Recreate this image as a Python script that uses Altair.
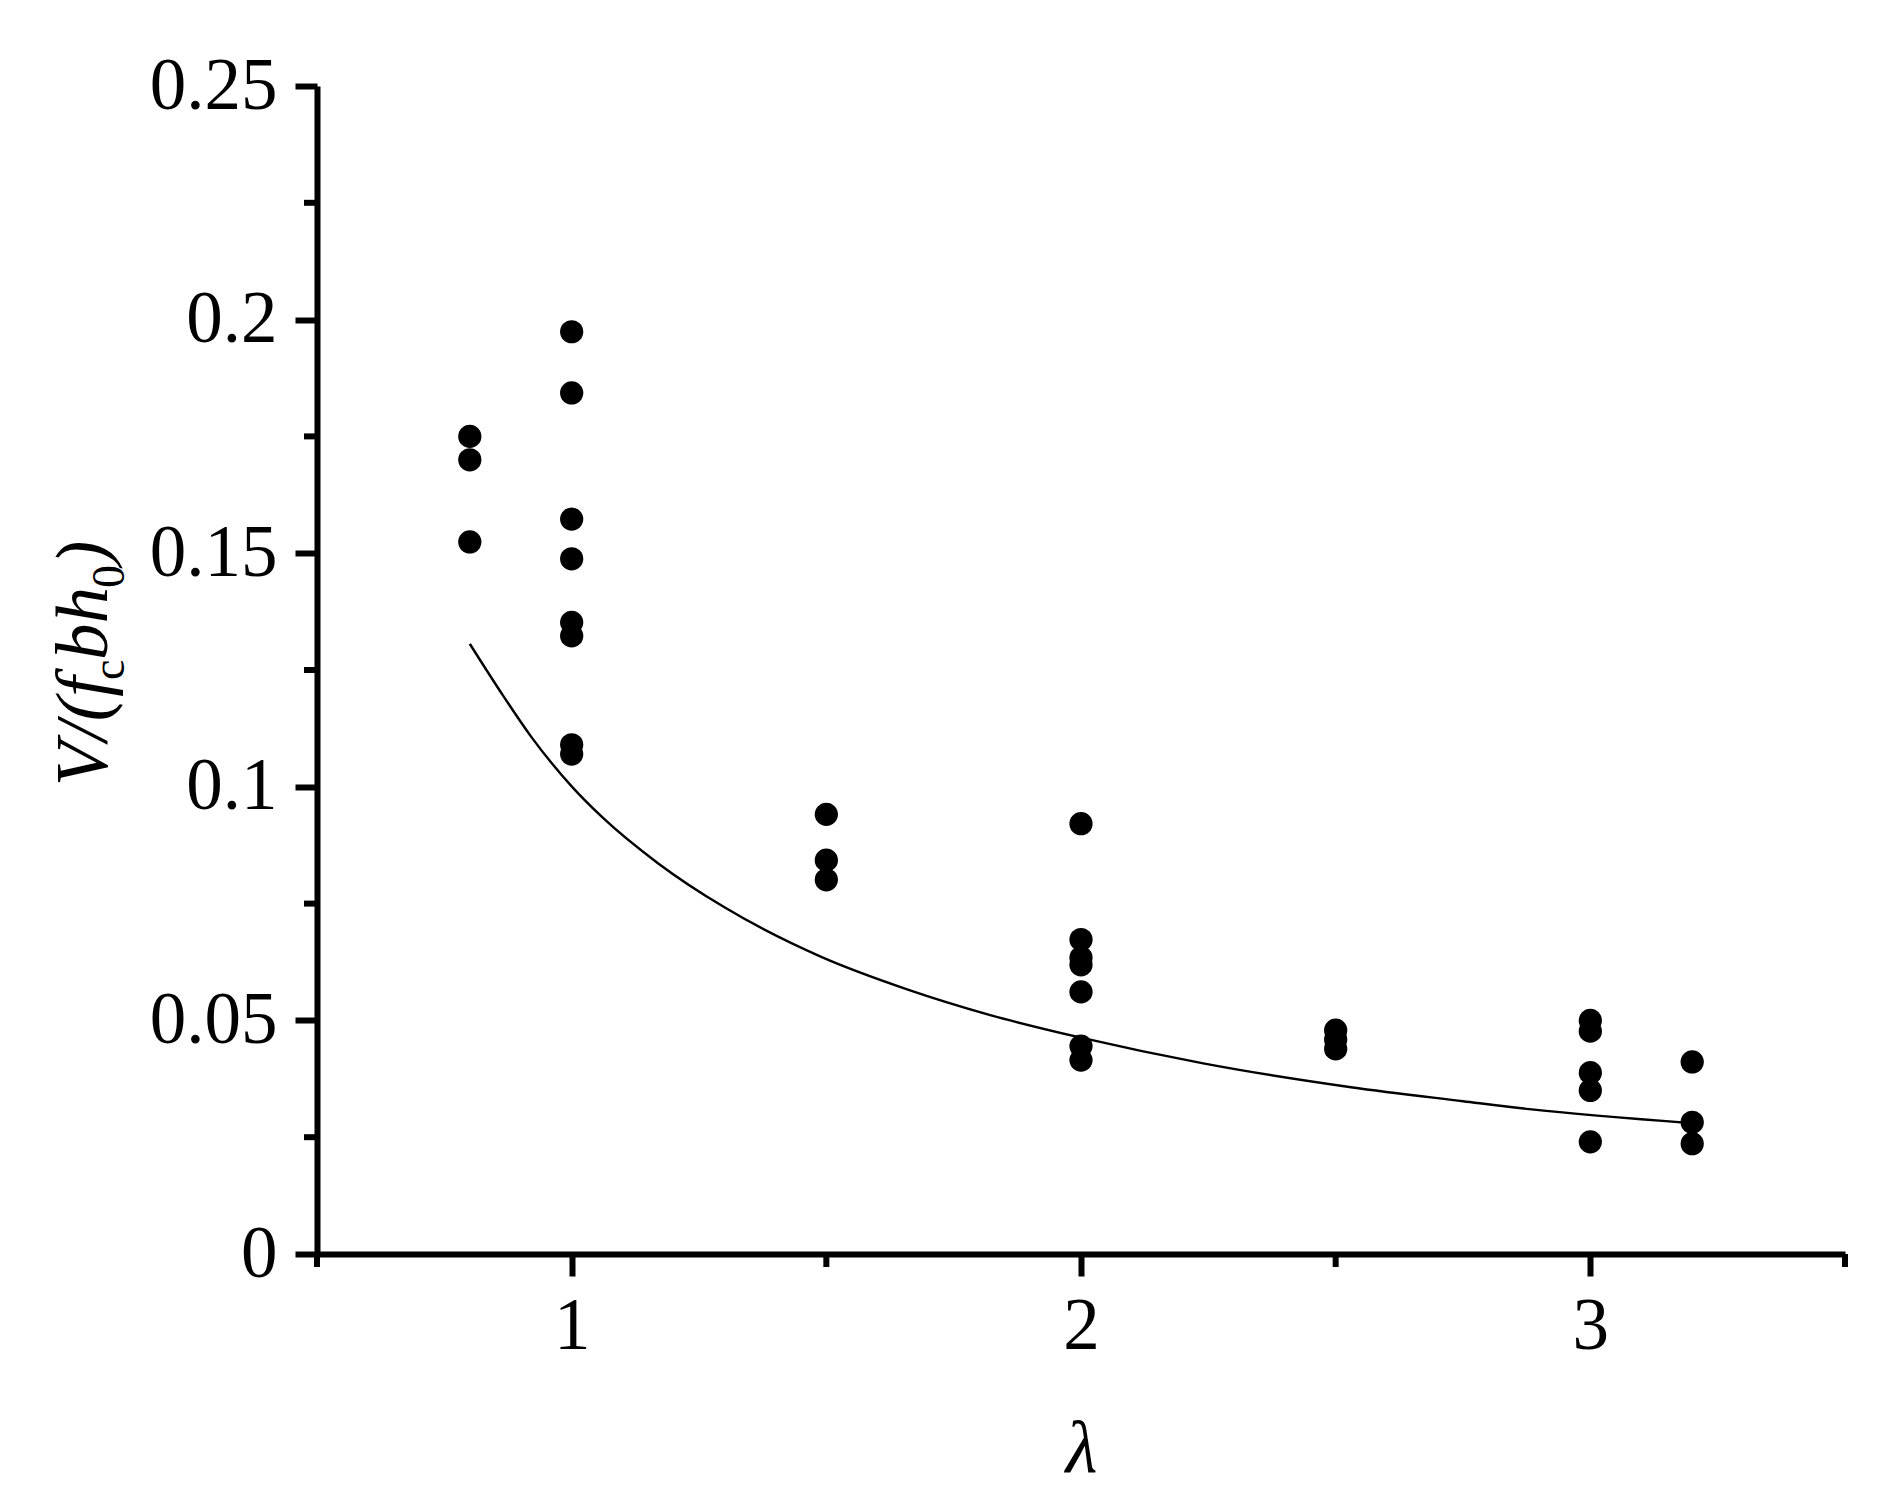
import altair as alt
import pandas as pd

# ---- data ----
lam_08 = [0.175, 0.170, 0.1524]
lam_10 = [0.1974, 0.1843, 0.1573, 0.1488, 0.1352, 0.1323, 0.109, 0.107]
lam_15 = [0.0941, 0.0843, 0.0801]
lam_20 = [0.0921, 0.0673, 0.0634, 0.0619, 0.0561, 0.0445, 0.0415]
lam_25 = [0.0479, 0.0459, 0.0439]
lam_30 = [0.050, 0.0477, 0.0388, 0.035, 0.0240]
lam_32 = [0.0411, 0.0282, 0.0236]

curve_lam = [0.80, 0.86, 0.92, 1.00, 1.06, 1.17, 1.30, 1.49, 1.66, 1.82, 2.00, 2.24, 2.53, 2.75, 2.88, 3.20]
curve_val = [0.1306, 0.1204, 0.1108, 0.1001, 0.0935, 0.0836, 0.0742, 0.0636, 0.0566, 0.0512, 0.0463, 0.0408, 0.0357, 0.0327, 0.0310, 0.0280]

x_ticks = [1, 2, 3]
y_ticks = [0, 0.05, 0.1, 0.15, 0.2, 0.25]
x_minor = [0.5, 1.5, 2.5, 3.5]
y_minor = [0.025, 0.075, 0.125, 0.175, 0.225]

groups = [(0.8, lam_08), (1.0, lam_10), (1.5, lam_15), (2.0, lam_20),
          (2.5, lam_25), (3.0, lam_30), (3.2, lam_32)]
pts = pd.DataFrame([{"lam": g, "v": v} for g, vals in groups for v in vals])
curve = pd.DataFrame({"lam": curve_lam, "v": curve_val})

W, H = 1528, 1168
FONT = "Liberation Serif"
LW = 6

common = dict(labelFlush=False, labelOverlap=False, grid=False,
              domainColor="black", domainWidth=LW, tickColor="black",
              tickWidth=LW, tickSize=22, labelFont=FONT, labelFontSize=73,
              labelColor="black", format="~g")

xs = alt.Scale(domain=[0.5, 3.5], nice=False, zero=False)
ys = alt.Scale(domain=[0, 0.25], nice=False, zero=False)

x_axis = alt.Axis(values=x_ticks, title="λ", titleFontStyle="italic",
                  titleFontWeight="normal", titleFontSize=73, titleFont=FONT,
                  titleBaseline="alphabetic", titleY=217, labelPadding=14,
                  titleColor="black", **common)
y_axis = alt.Axis(values=y_ticks, title=None, labelPadding=18, **common)

points = alt.Chart(pts).mark_circle(size=540, color="black", opacity=1).encode(
    x=alt.X("lam:Q", scale=xs, axis=x_axis),
    y=alt.Y("v:Q", scale=ys, axis=y_axis),
)

line = alt.Chart(curve).mark_line(color="black", strokeWidth=2.4, interpolate="monotone").encode(
    x=alt.X("lam:Q", scale=xs),
    y=alt.Y("v:Q", scale=ys),
)

xminor = alt.Chart(pd.DataFrame({"m": x_minor})).mark_rule(color="black", strokeWidth=LW).encode(
    x=alt.X("m:Q", scale=xs),
    y=alt.value(H),
    y2=alt.value(H + 13),
)
yminor = alt.Chart(pd.DataFrame({"m": y_minor})).mark_rule(color="black", strokeWidth=LW).encode(
    y=alt.Y("m:Q", scale=ys),
    x=alt.value(-13),
    x2=alt.value(0),
)

one = pd.DataFrame({"k": [0]})

def piece(txt, ypos, xpos, size, style):
    return alt.Chart(one).mark_text(
        angle=270, align="left", baseline="alphabetic", font=FONT,
        fontSize=size, fontStyle=style, color="black"
    ).encode(text=alt.value(txt), x=alt.value(xpos), y=alt.value(ypos))

title_parts = [
    piece("V/(f", 700, -210, 73, "italic"),
    piece("c", 594, -193, 46, "normal"),
    piece("bh", 574, -210, 73, "italic"),
    piece("0", 502, -193, 46, "normal"),
    piece(")", 479, -210, 73, "italic"),
]

chart = alt.layer(points, line, xminor, yminor, *title_parts).properties(
    width=W, height=H,
    background="white",
    autosize=alt.AutoSizeParams(type="none"),
    padding={"left": 309, "top": 78, "right": 24, "bottom": 240},
).configure_view(stroke=None)

chart.save("out.html", embed_options={"renderer": "svg", "actions": False})
